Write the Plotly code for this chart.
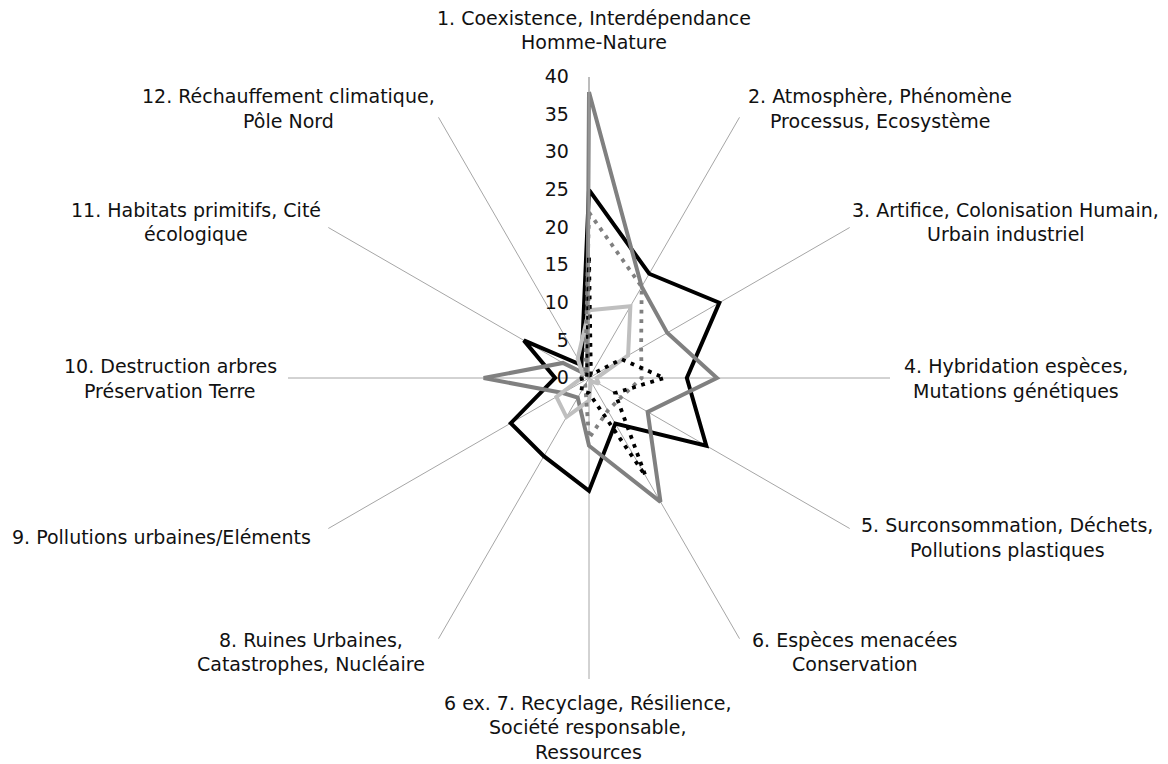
import plotly.graph_objects as go

# Axis categories (one per spoke, clockwise from the top)
categories = [
    "1. Coexistence, Interdépendance Homme-Nature",
    "2. Atmosphère, Phénomène Processus, Ecosystème",
    "3. Artifice, Colonisation Humain, Urbain industriel",
    "4. Hybridation espèces, Mutations génétiques",
    "5. Surconsommation, Déchets, Pollutions plastiques",
    "6. Espèces menacées Conservation",
    "6 ex. 7. Recyclage, Résilience, Société responsable, Ressources",
    "8. Ruines Urbaines, Catastrophes, Nucléaire",
    "9. Pollutions urbaines/Eléments",
    "10. Destruction arbres Préservation Terre",
    "11. Habitats primitifs, Cité écologique",
    "12. Réchauffement climatique, Pôle Nord",
]

# Category labels as they are broken over lines
label_lines = [
    ["1. Coexistence, Interdépendance", "Homme-Nature"],
    ["2. Atmosphère, Phénomène", "Processus, Ecosystème"],
    ["3. Artifice, Colonisation Humain,", "Urbain industriel"],
    ["4. Hybridation espèces,", "Mutations génétiques"],
    ["5. Surconsommation, Déchets,", "Pollutions plastiques"],
    ["6. Espèces menacées", "Conservation"],
    ["6 ex. 7. Recyclage, Résilience,", "Société responsable,", "Ressources"],
    ["8. Ruines Urbaines,", "Catastrophes, Nucléaire"],
    ["9. Pollutions urbaines/Eléments"],
    ["10. Destruction arbres", "Préservation Terre"],
    ["11. Habitats primitifs, Cité", "écologique"],
    ["12. Réchauffement climatique,", "Pôle Nord"],
]

# Series values
serie_noire = [25, 16, 20, 13, 18, 7, 15, 12, 12, 4.5, 10, 2]
serie_grise = [38, 14, 12, 17, 9, 19, 9, 3, 4, 14, 4, 0.5]
serie_gris_clair = [9, 11, 6, 1, 1.5, 0.5, 3, 6, 5, 1, 1, 3]
serie_grise_pointillee = [22, 14, 8, 7, 5, 5, 8, 1, 1, 1, 1, 1]
serie_noire_pointillee = [16, 0.5, 5, 10, 4, 15, 2, 2, 1, 1, 1, 0.5]

radial_ticks = [0, 5, 10, 15, 20, 25, 30, 35, 40]

W, H = 1168, 764
CX, CY, R = 589, 378, 301  # plot centre and radius in pixels

FONT = dict(family="DejaVu Sans", size=19, color="#111111")

fig = go.Figure()

styles = [
    (serie_noire, dict(color="#000000", width=4)),
    (serie_grise, dict(color="#808080", width=4)),
    (serie_gris_clair, dict(color="#bfbfbf", width=4)),
    (serie_grise_pointillee, dict(color="#808080", width=3.8, dash="3.8px,5.7px")),
    (serie_noire_pointillee, dict(color="#000000", width=3.8, dash="3.8px,5.7px")),
]

for values, line in styles:
    fig.add_trace(go.Scatterpolar(
        r=values + values[:1],
        theta=categories + categories[:1],
        mode="lines",
        line=line,
        hoverinfo="skip",
        showlegend=False,
    ))

# Label anchor points (pixel centres of each text block)
label_pos = [
    (594, 30), (880, 108.5), (1006, 222), (1016, 378.5), (1007, 537.5),
    (855, 652), (588, 727), (311, 652), (161, 537), (170, 378.5),
    (196, 222), (288, 108.5),
]
LINE_STEP = 24.5

annotations = []
for lines, (lx, ly) in zip(label_lines, label_pos):
    n = len(lines)
    for i, txt in enumerate(lines):
        yy = ly + (i - (n - 1) / 2) * LINE_STEP
        annotations.append(dict(
            text=txt, x=lx / W, y=1 - yy / H, xref="paper", yref="paper",
            xanchor="center", yanchor="middle", showarrow=False, font=FONT,
        ))

fig.update_layout(
    width=W, height=H,
    margin=dict(l=0, r=0, t=0, b=0),
    paper_bgcolor="white",
    showlegend=False,
    polar=dict(
        domain=dict(x=[(CX - R) / W, (CX + R) / W],
                    y=[(H - CY - R) / H, (H - CY + R) / H]),
        bgcolor="white",
        angularaxis=dict(
            rotation=90, direction="clockwise",
            showticklabels=False, ticks="",
            showline=False, showgrid=True,
            gridcolor="#a6a6a6", gridwidth=1,
        ),
        radialaxis=dict(
            range=[0, 40], angle=90, tickangle=90,
            tickvals=radial_ticks,
            showgrid=False, showline=True, linecolor="#a6a6a6", linewidth=1,
            ticks="outside", ticklen=13, tickcolor="rgba(0,0,0,0)",
            side="counterclockwise", tickfont=FONT,
        ),
    ),
    annotations=annotations,
)

fig.write_html("out.html")
